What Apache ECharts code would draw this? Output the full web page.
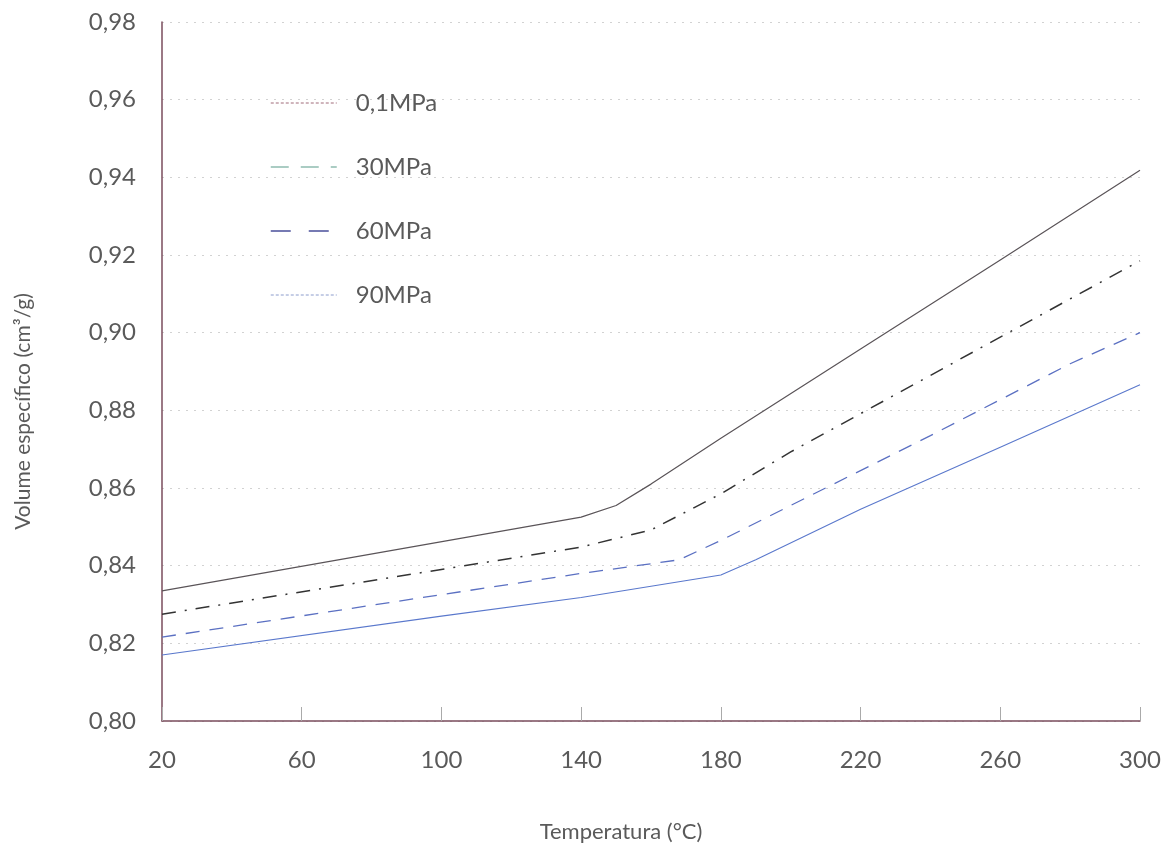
<!DOCTYPE html>
<html>
<head>
<meta charset="utf-8">
<script src="https://cdn.jsdelivr.net/npm/echarts@6/dist/echarts.min.js"></script>
<style>html,body{margin:0;padding:0;background:#fff}#c{width:1166px;height:849px}</style>
</head>
<body>
<div id="c"></div>
<script>
// ---- data ----
const seriesNames = ['0,1MPa', '30MPa', '60MPa', '90MPa'];
const temps01 = [20, 140, 150, 160, 180, 220, 260, 300];
const vol01   = [0.8335, 0.8525, 0.8555, 0.8610, 0.8728, 0.8958, 0.9187, 0.9418];
const temps30 = [20, 140, 160, 180, 200, 240, 280, 300];
const vol30   = [0.8275, 0.8448, 0.8492, 0.8585, 0.8693, 0.8890, 0.9087, 0.9185];
const temps60 = [20, 140, 168, 180, 200, 240, 280, 300];
const vol60   = [0.8216, 0.8380, 0.8415, 0.8465, 0.8555, 0.8735, 0.8920, 0.9000];
const temps90 = [20, 100, 140, 180, 190, 220, 260, 300];
const vol90   = [0.8170, 0.8270, 0.8318, 0.8376, 0.8415, 0.8545, 0.8705, 0.8866];
const xTicks = [20, 60, 100, 140, 180, 220, 260, 300];
const yTicks = [0.80, 0.82, 0.84, 0.86, 0.88, 0.90, 0.92, 0.94, 0.96, 0.98];

const pairs = (xs, ys) => xs.map((x, i) => [x, ys[i]]);
const FONT = 'Lato, "Open Sans", sans-serif';
const hidden = { opacity: 0 };
const chart = echarts.init(document.getElementById('c'));
chart.setOption({
  backgroundColor: '#fff',
  animation: false,
  grid: { left: 162, right: 26, top: 22, bottom: 128 },
  legend: {
    orient: 'vertical', left: 265, top: 86,
    itemWidth: 66, itemHeight: 12, itemGap: 40,
    textStyle: { fontFamily: FONT, fontSize: 24, color: '#5a5a5a', padding: [0, 0, 0, 14] },
    data: [
      { name: seriesNames[0], itemStyle: hidden, lineStyle: { color: '#a06a78', type: [3, 2], width: 1 } },
      { name: seriesNames[1], itemStyle: hidden, lineStyle: { color: '#8fbcb0', type: [18, 12], width: 1.5 } },
      { name: seriesNames[2], itemStyle: hidden, lineStyle: { color: '#4a4f9a', type: [20, 18], width: 1.5 } },
      { name: seriesNames[3], itemStyle: hidden, lineStyle: { color: '#8c9ccc', type: [3, 2], width: 1 } }
    ]
  },
  xAxis: {
    type: 'value', min: 20, max: 300, interval: 40,
    name: 'Temperatura (°C)', nameLocation: 'middle', nameGap: 100,
    nameTextStyle: { fontFamily: FONT, fontSize: 22, color: '#5a5a5a', padding: [0, 60, 0, 0] },
    axisLine: { lineStyle: { color: '#7a4c5c', width: 1.5 } },
    axisTick: { inside: true, length: 14, lineStyle: { color: '#aaa' } },
    axisLabel: { fontFamily: FONT, fontSize: 24, color: '#5a5a5a', margin: 27,
      customValues: xTicks },
    splitLine: { show: false }
  },
  yAxis: {
    type: 'value', min: 0.80, max: 0.98, interval: 0.02,
    name: 'Volume específico (cm³/g)', nameLocation: 'middle', nameGap: 128,
    nameTextStyle: { fontFamily: FONT, fontSize: 21, color: '#5a5a5a', padding: [0, 80, 0, 0] },
    axisLine: { show: true, lineStyle: { color: '#7a4c5c', width: 1.5 } },
    axisTick: { show: false },
    axisLabel: { fontFamily: FONT, fontSize: 24, color: '#5a5a5a', margin: 26,
      customValues: yTicks,
      formatter: v => v.toFixed(2).replace('.', ',') },
    splitLine: { show: true, lineStyle: { color: '#d2d2d2', type: [2, 6], width: 1 } }
  },
  series: [
    { name: seriesNames[0], type: 'line', symbol: 'none', data: pairs(temps01, vol01),
      lineStyle: { color: '#5a5458', width: 1.2 } },
    { name: seriesNames[1], type: 'line', symbol: 'none', data: pairs(temps30, vol30),
      lineStyle: { color: '#333', width: 1.5, type: [14, 9, 2, 9] } },
    { name: seriesNames[2], type: 'line', symbol: 'none', data: pairs(temps60, vol60),
      lineStyle: { color: '#5b70c2', width: 1.3, type: [14, 10] } },
    { name: seriesNames[3], type: 'line', symbol: 'none', data: pairs(temps90, vol90),
      lineStyle: { color: '#5a78cc', width: 1.1 } }
  ]
});
</script>
</body>
</html>
